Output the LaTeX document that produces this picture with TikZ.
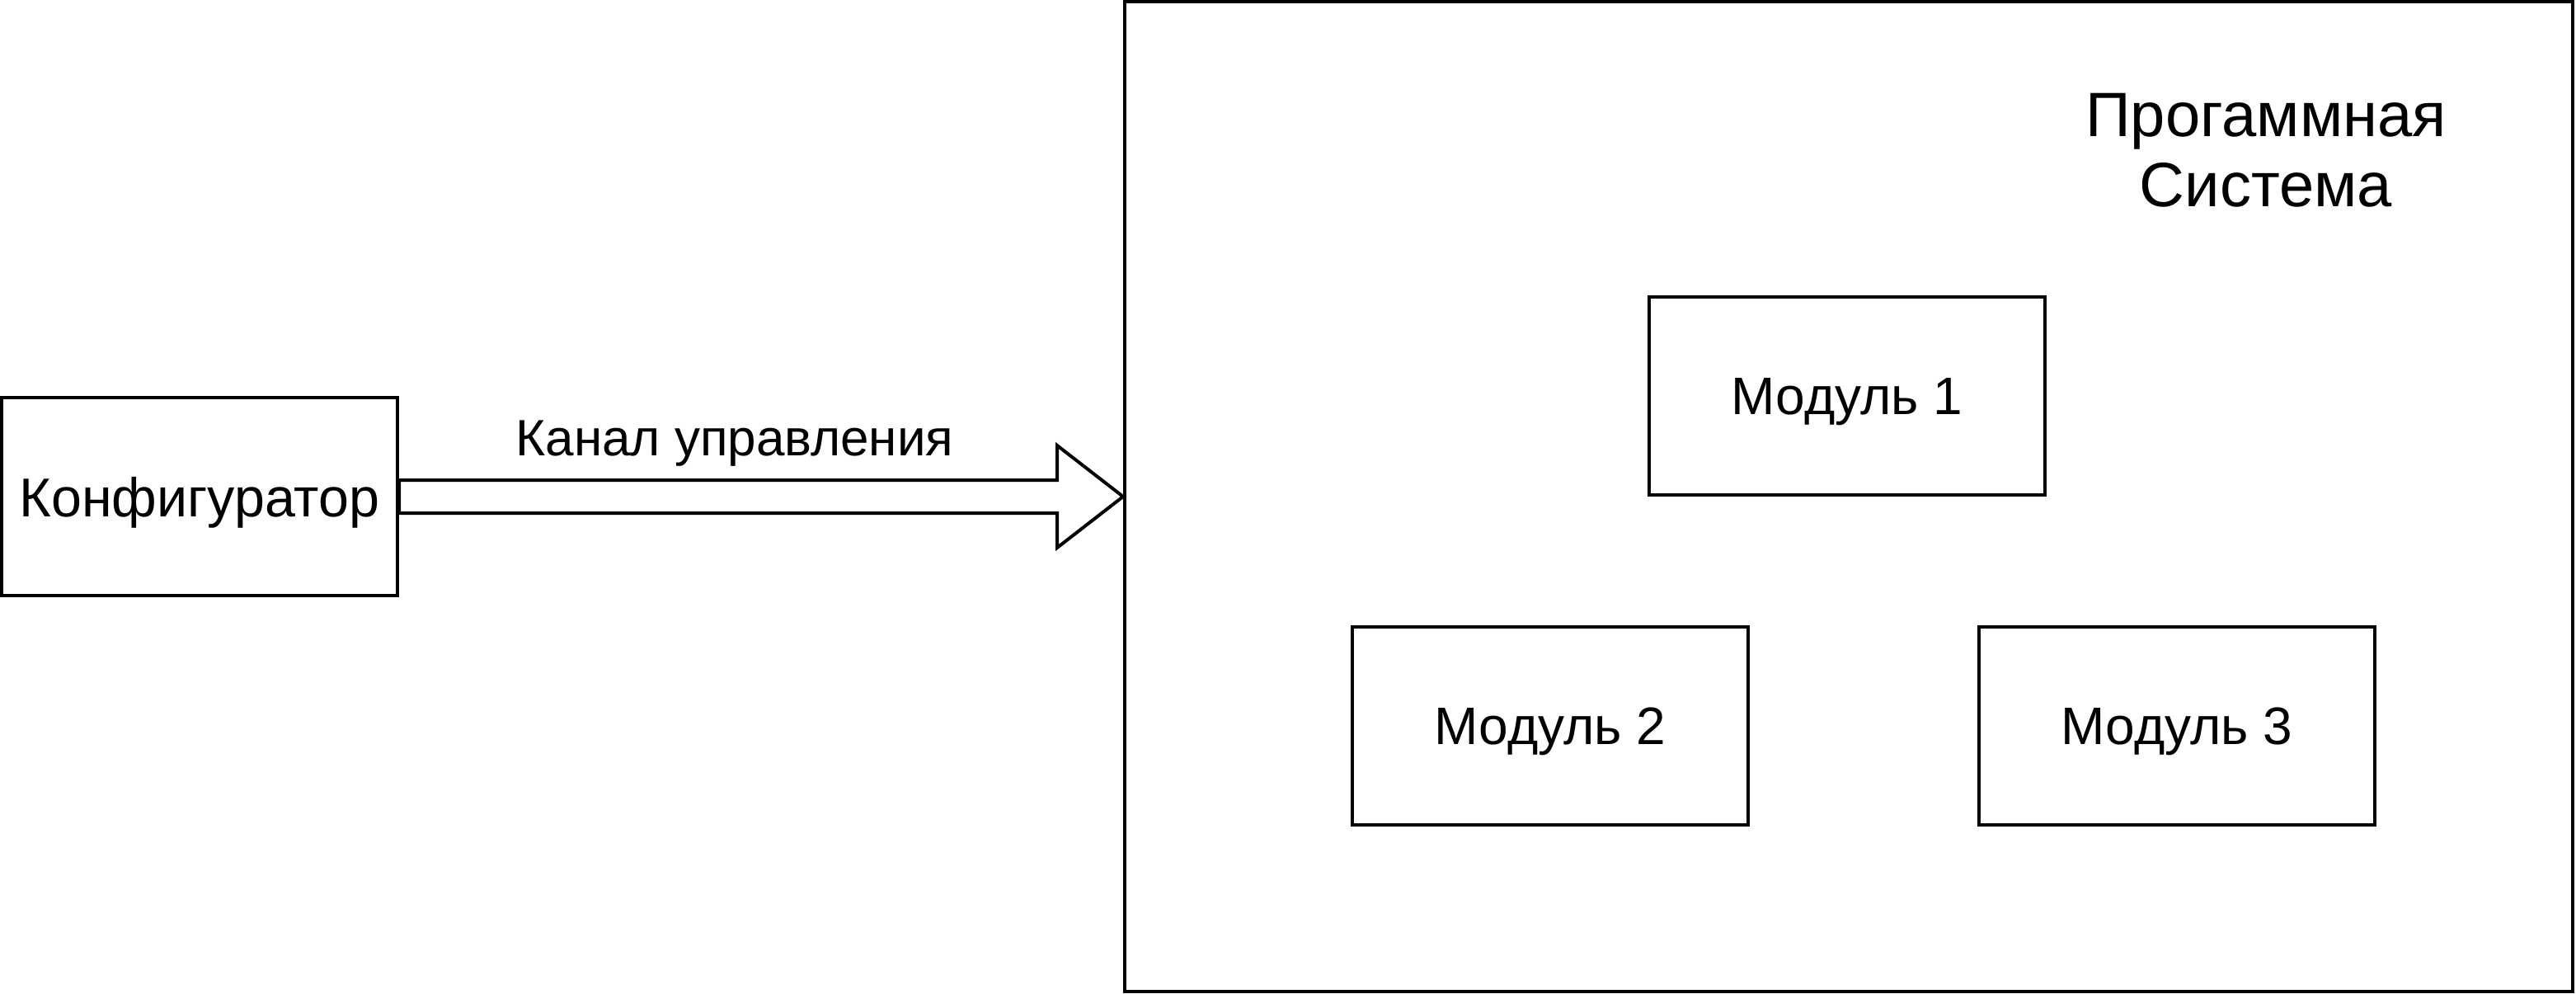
\documentclass[tikz,border=0pt]{standalone}
\usepackage{fontspec}
\setmainfont{Liberation Sans}
\tikzstyle{blk}=[rectangle,draw=black,line width=1pt,minimum width=120pt,minimum height=60pt,inner sep=0pt,text depth=0pt,font=\fontsize{16}{19}\selectfont]

\begin{document}
\begin{tikzpicture}[x=1pt,y=1pt]
\useasboundingbox (0,0) rectangle (781,301);
\node[blk,minimum width=439pt,minimum height=300pt] (sys) at (560.5,150.5) {};
\node[font=\fontsize{19}{21.25}\selectfont,align=center] (title) at (687,255.4) {Прогаммная\\Система};
\node[blk,font=\fontsize{16.6}{19}\selectfont] (konf) at (60.5,150.5) {Конфигуратор};
\node[blk] (mod1) at (560,181) {Модуль 1};
\node[blk] (mod2) at (470,81) {Модуль 2};
\node[blk] (mod3) at (660,81) {Модуль 3};
\draw[line width=1pt,line join=miter] ([yshift=5pt]konf.east) -- node[pos=.5,anchor=base,xshift=2pt,yshift=7.5pt,font=\fontsize{15.5}{19}\selectfont] (chan) {Канал управления} ([xshift=-20pt,yshift=5pt]sys.west)
  -- ([xshift=-20pt,yshift=15.5pt]sys.west) -- (sys.west) -- ([xshift=-20pt,yshift=-15.5pt]sys.west)
  -- ([xshift=-20pt,yshift=-5pt]sys.west) -- ([yshift=-5pt]konf.east) -- cycle;
\end{tikzpicture}
\end{document}
